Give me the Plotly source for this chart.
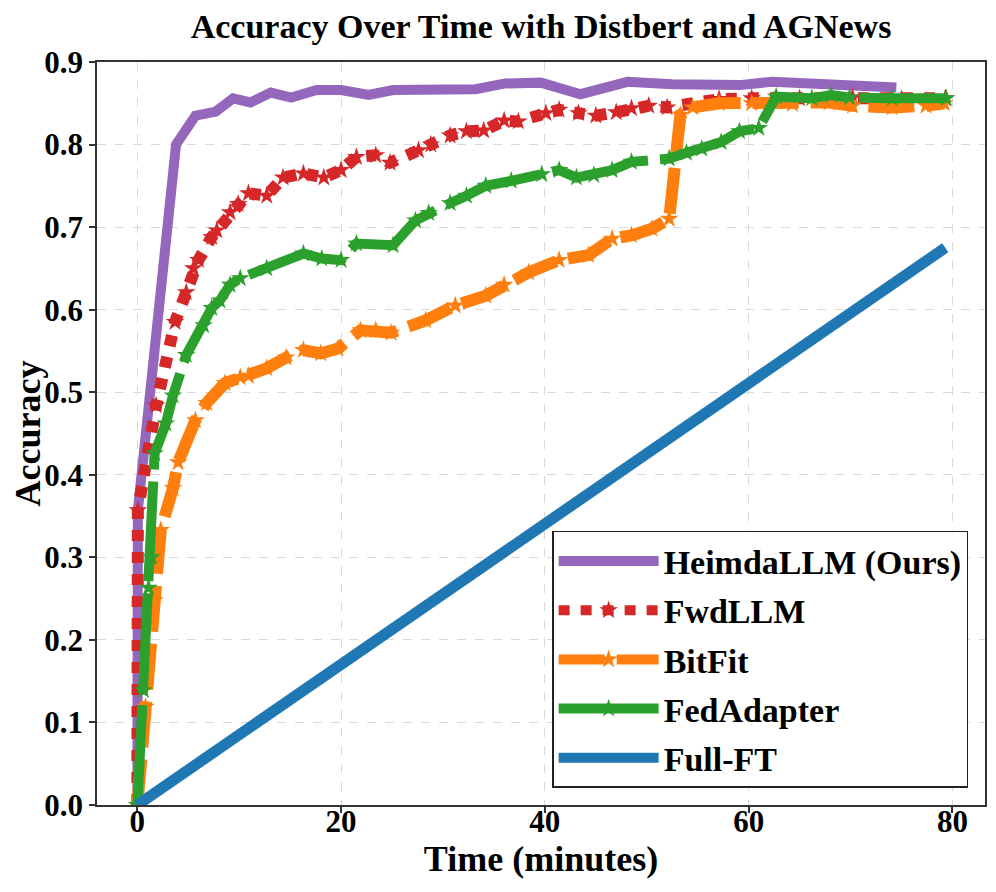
import plotly.graph_objects as go

# ---------------- data ----------------
heim_x = [0, 0.05, 3.8, 5.7, 7.7, 9.4, 11.1, 13.1, 15.1, 17.6, 20.0, 22.7, 25.1, 28.3, 33.2, 36.1, 39.6, 43.5, 48.1, 52.5, 55.8, 59.1, 62.3, 66.2, 70.4, 74.5]
heim_y = [0.0, 0.357, 0.80, 0.835, 0.840, 0.856, 0.851, 0.863, 0.857, 0.866, 0.866, 0.860, 0.866, 0.866, 0.867, 0.874, 0.875, 0.861, 0.876, 0.873, 0.872, 0.872, 0.876, 0.874, 0.874, 0.869]

fwd_x = [0, 0.05, 1.85, 3.7, 4.8, 5.5, 6.0, 7.3, 7.8, 9.1, 9.9, 10.9, 12.7, 14.3, 16.3, 18.3, 20.0, 21.5, 23.4, 24.8, 27.6, 28.8, 30.7, 32.3, 34.0, 36.0, 37.4, 40.1, 41.4, 43.3, 45.0, 47.0, 48.5, 50.2, 52.0, 57.1, 60.3, 65.0, 70.2, 75.0, 79.3]
fwd_y = [0.0, 0.357, 0.484, 0.585, 0.621, 0.650, 0.660, 0.688, 0.696, 0.718, 0.728, 0.741, 0.738, 0.760, 0.765, 0.760, 0.769, 0.785, 0.787, 0.778, 0.793, 0.800, 0.811, 0.816, 0.817, 0.829, 0.828, 0.838, 0.842, 0.838, 0.835, 0.839, 0.844, 0.847, 0.845, 0.855, 0.856, 0.856, 0.857, 0.855, 0.856]

bit_x = [0, 0.8, 1.7, 2.3, 3.5, 4.0, 5.7, 6.8, 8.6, 10.1, 10.9, 12.7, 14.6, 16.3, 18.0, 19.7, 21.9, 23.4, 24.9, 28.3, 31.2, 34.2, 36.0, 38.4, 41.4, 44.3, 46.6, 48.5, 50.5, 52.2, 53.3, 54.5, 57.1, 60.3, 64.3, 67.9, 70.2, 74.1, 77.4, 79.2]
bit_y = [0.0, 0.119, 0.248, 0.333, 0.384, 0.415, 0.466, 0.487, 0.511, 0.518, 0.520, 0.529, 0.542, 0.551, 0.547, 0.553, 0.575, 0.575, 0.572, 0.587, 0.605, 0.617, 0.630, 0.645, 0.660, 0.666, 0.686, 0.690, 0.698, 0.710, 0.836, 0.845, 0.850, 0.850, 0.849, 0.851, 0.847, 0.845, 0.847, 0.850]

fed_x = [0, 0.6, 1.1, 1.4, 1.7, 2.8, 3.5, 4.8, 6.5, 7.3, 8.1, 9.1, 10.1, 12.7, 16.3, 18.1, 20.0, 21.5, 25.1, 27.3, 28.6, 30.7, 32.3, 34.2, 36.7, 39.7, 41.4, 43.1, 44.8, 46.6, 48.5, 52.2, 53.9, 55.4, 57.3, 59.1, 61.0, 62.7, 66.2, 68.1, 69.9, 74.1, 79.4]
fed_y = [0.0, 0.139, 0.263, 0.300, 0.426, 0.462, 0.496, 0.545, 0.581, 0.602, 0.611, 0.630, 0.638, 0.650, 0.668, 0.662, 0.660, 0.680, 0.678, 0.708, 0.717, 0.729, 0.738, 0.750, 0.756, 0.764, 0.769, 0.760, 0.763, 0.769, 0.779, 0.783, 0.790, 0.795, 0.803, 0.816, 0.820, 0.858, 0.856, 0.860, 0.857, 0.856, 0.856]

full_x = [0, 10, 20, 30, 40, 50, 60, 70, 79.3]
full_y = [0.0, 0.085, 0.172, 0.257, 0.340, 0.425, 0.510, 0.595, 0.675]

x_ticks = [0, 20, 40, 60, 80]
y_ticks = [0.0, 0.1, 0.2, 0.3, 0.4, 0.5, 0.6, 0.7, 0.8, 0.9]

FONT = "Liberation Serif"

fig = go.Figure()

fig.add_trace(go.Scatter(x=heim_x, y=heim_y, name="HeimdaLLM (Ours)", mode="lines",
                         line=dict(color="#9467bd", width=10), legendgroup="a"))
fig.add_trace(go.Scatter(x=fwd_x, y=fwd_y, name="FwdLLM", mode="lines+markers",
                         line=dict(color="#d62728", width=12, dash="11px,11px"),
                         marker=dict(symbol="star", size=14, color="#d62728", line=dict(width=0)),
                         legendgroup="b"))
fig.add_trace(go.Scatter(x=bit_x, y=bit_y, name="BitFit", mode="lines+markers",
                         line=dict(color="#ff7f0e", width=12, dash="46px,12px"),
                         marker=dict(symbol="star", size=14, color="#ff7f0e", line=dict(width=0)),
                         legendgroup="c"))
fig.add_trace(go.Scatter(x=fed_x, y=fed_y, name="FedAdapter", mode="lines+markers",
                         line=dict(color="#2ca02c", width=10, dash="100px,12px"),
                         marker=dict(symbol="star", size=14, color="#2ca02c", line=dict(width=0)),
                         legendgroup="d"))
fig.add_trace(go.Scatter(x=full_x, y=full_y, name="Full-FT", mode="lines",
                         line=dict(color="#1f77b4", width=11), legendgroup="e"))

axis_common = dict(
    showline=True, linecolor="#333333", linewidth=1.5, mirror=True,
    ticks="outside", ticklen=6, tickwidth=1.5, tickcolor="#333333",
    showgrid=True, gridcolor="#d9d9d9", griddash="dash", gridwidth=1,
    zeroline=False,
    tickfont=dict(family=FONT, size=31, color="black", weight="bold"),
)

fig.update_xaxes(range=[-3.96, 83.2], tickvals=x_ticks, ticklabelstandoff=-18, **axis_common,
                 title=dict(text="Time (minutes)", standoff=0,
                            font=dict(family=FONT, size=36, color="black", weight="bold")))
fig.update_yaxes(range=[0, 0.9], tickvals=y_ticks, tickformat=".1f", **axis_common,
                 title=dict(text="Accuracy", standoff=4,
                            font=dict(family=FONT, size=36, color="black", weight="bold")))

fig.update_layout(
    width=988, height=884,
    margin=dict(l=89, r=11, t=54, b=87, autoexpand=False),
    paper_bgcolor="white", plot_bgcolor="white",
    title=dict(text="Accuracy Over Time with Distbert and AGNews", x=0.5, xref="paper",
               y=0.993, yanchor="top", pad=dict(t=0, b=0),
               font=dict(family=FONT, size=34, color="black", weight="bold")),
    legend=dict(x=0.981, y=0.023, xanchor="right", yanchor="bottom",
                bgcolor="white", bordercolor="#222222", borderwidth=1.5,
                font=dict(family=FONT, size=34, color="black", weight="bold"),
                tracegroupgap=2, itemwidth=100),
    showlegend=True,
)

fig.write_html("out.html")
